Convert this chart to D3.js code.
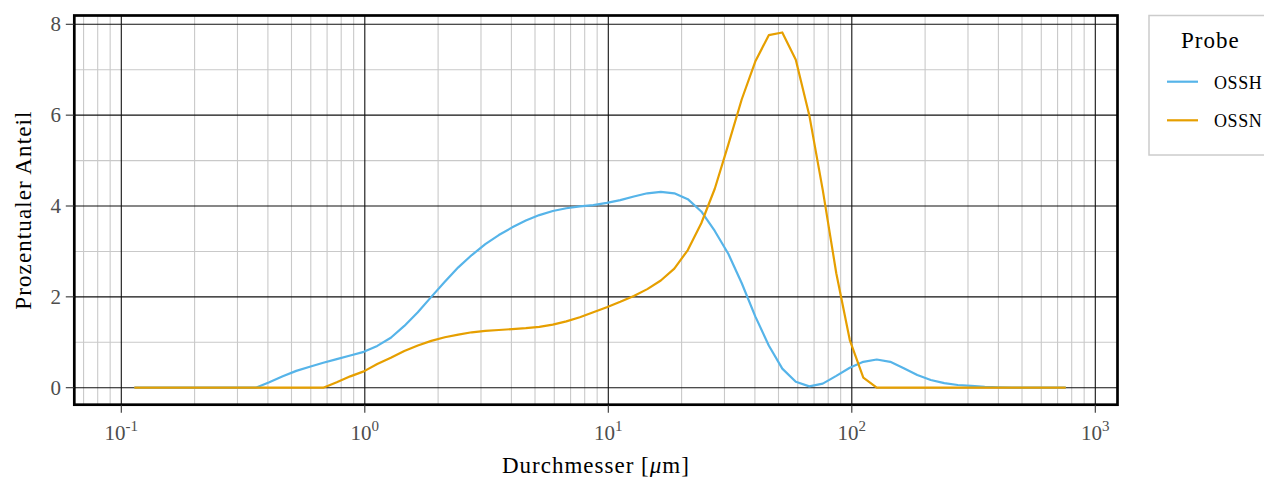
<!DOCTYPE html>
<html>
<head>
<meta charset="utf-8">
<script src="https://cdn.jsdelivr.net/npm/d3@7/dist/d3.min.js"></script>
<style>
  html, body { margin: 0; padding: 0; background: #fff; }
  svg { display: block; }
  text { font-family: "Liberation Serif", "Times New Roman", serif; }
</style>
</head>
<body>
<svg id="chart" width="1264" height="477"></svg>
<script>
// Particle size classes (µm)
const diameters = [
  0.1131, 0.1285, 0.1460, 0.1658, 0.1884, 0.2141, 0.2432, 0.2763, 0.3139, 0.3567,
  0.4052, 0.4604, 0.5231, 0.5943, 0.6752, 0.7671, 0.8717, 0.9905, 1.125, 1.279,
  1.453, 1.651, 1.875, 2.131, 2.421, 2.750, 3.125, 3.551, 4.034, 4.584,
  5.208, 5.917, 6.723, 7.638, 8.678, 9.859, 11.20, 12.73, 14.46, 16.43,
  18.67, 21.21, 24.09, 27.37, 31.10, 35.33, 40.14, 45.61, 51.82, 58.88,
  66.89, 76.00, 86.35, 98.12, 111.5, 126.6, 143.9, 163.5, 185.8, 211.0,
  239.8, 272.4, 309.5, 351.7, 399.6, 454.0, 515.8, 586.0, 665.8, 756.5
];

// Percentage share per class, sample OSSH
const ossh = [
  0, 0, 0, 0, 0, 0, 0, 0, 0, 0,
  0.12, 0.25, 0.37, 0.46, 0.55, 0.63, 0.71, 0.79, 0.92, 1.10,
  1.36, 1.66, 2.00, 2.33, 2.65, 2.92, 3.16, 3.36, 3.53, 3.68,
  3.80, 3.89, 3.95, 3.99, 4.02, 4.07, 4.13, 4.21, 4.28, 4.31,
  4.28, 4.15, 3.88, 3.45, 2.95, 2.30, 1.57, 0.93, 0.42, 0.13,
  0.03, 0.09, 0.26, 0.44, 0.57, 0.62, 0.57, 0.43, 0.28, 0.17,
  0.10, 0.06, 0.04, 0.02, 0.01, 0, 0, 0, 0, 0
];

// Percentage share per class, sample OSSN
const ossn = [
  0, 0, 0, 0, 0, 0, 0, 0, 0, 0,
  0, 0, 0, 0, 0, 0.12, 0.25, 0.36, 0.52, 0.66,
  0.81, 0.93, 1.03, 1.11, 1.17, 1.22, 1.25, 1.27, 1.29, 1.31,
  1.34, 1.39, 1.46, 1.55, 1.66, 1.77, 1.89, 2.02, 2.17, 2.36,
  2.62, 3.03, 3.62, 4.38, 5.35, 6.35, 7.18, 7.76, 7.82, 7.22,
  6.00, 4.35, 2.52, 1.05, 0.22, 0, 0, 0, 0, 0,
  0, 0, 0, 0, 0, 0, 0, 0, 0, 0
];

const seriesNames = ["OSSH", "OSSN"];
const seriesColors = ["#56B4E9", "#E69F00"];
const xMajorTicks = [0.1, 1, 10, 100, 1000];
const xTickExponents = ["-1", "0", "1", "2", "3"];
const yMajorTicks = [0, 2, 4, 6, 8];
const yMinorTicks = [1, 3, 5, 7];

const svg = d3.select("#chart");

// panel geometry
const panel = { left: 74.3, right: 1117.5, top: 15.5, bottom: 404.7 };

const x = d3.scaleLog().domain([0.1, 1000]).range([121.3, 1095.3]);
const y = d3.scaleLinear().domain([0, 8]).range([387.7, 24.3]);

// minor x positions: 2..9 × each decade inside the panel
const xLo = x.invert(panel.left), xHi = x.invert(panel.right);
const xMinorTicks = [];
for (let e = -2; e <= 3; e++) {
  for (let m = 2; m <= 9; m++) {
    const v = m * Math.pow(10, e);
    if (v > xLo && v < xHi) xMinorTicks.push(v);
  }
}

svg.append("defs").append("clipPath").attr("id", "panel-clip")
  .append("rect")
  .attr("x", panel.left).attr("y", panel.top)
  .attr("width", panel.right - panel.left)
  .attr("height", panel.bottom - panel.top);

const grid = svg.append("g").attr("clip-path", "url(#panel-clip)");

// minor grid
grid.selectAll("line.xminor").data(xMinorTicks).join("line")
  .attr("x1", d => x(d)).attr("x2", d => x(d))
  .attr("y1", panel.top).attr("y2", panel.bottom)
  .attr("stroke", "#c9c9c9").attr("stroke-width", 1.1);
grid.selectAll("line.yminor").data(yMinorTicks).join("line")
  .attr("x1", panel.left).attr("x2", panel.right)
  .attr("y1", d => y(d)).attr("y2", d => y(d))
  .attr("stroke", "#c9c9c9").attr("stroke-width", 1.1);

// major grid
grid.selectAll("line.xmajor").data(xMajorTicks).join("line")
  .attr("x1", d => x(d)).attr("x2", d => x(d))
  .attr("y1", panel.top).attr("y2", panel.bottom)
  .attr("stroke", "#111").attr("stroke-width", 1.1);
grid.selectAll("line.ymajor").data(yMajorTicks).join("line")
  .attr("x1", panel.left).attr("x2", panel.right)
  .attr("y1", d => y(d)).attr("y2", d => y(d))
  .attr("stroke", "#111").attr("stroke-width", 1.1);

// data lines
const series = [ossh, ossn];
const line = d3.line()
  .x(d => x(d[0]))
  .y(d => y(d[1]));

series.forEach((vals, i) => {
  grid.append("path")
    .datum(diameters.map((dm, j) => [dm, vals[j]]))
    .attr("d", line)
    .attr("fill", "none")
    .attr("stroke", seriesColors[i])
    .attr("stroke-width", 2.2)
    .attr("stroke-linejoin", "round");
});

// panel border
svg.append("rect")
  .attr("x", panel.left).attr("y", panel.top)
  .attr("width", panel.right - panel.left)
  .attr("height", panel.bottom - panel.top)
  .attr("fill", "none").attr("stroke", "#000").attr("stroke-width", 2.7);

// y axis
const yAxis = svg.append("g");
yAxis.selectAll("line").data(yMajorTicks).join("line")
  .attr("x1", panel.left - 8.5).attr("x2", panel.left)
  .attr("y1", d => y(d)).attr("y2", d => y(d))
  .attr("stroke", "#333").attr("stroke-width", 1.1);
yAxis.selectAll("text").data(yMajorTicks).join("text")
  .attr("x", 61).attr("y", d => y(d))
  .attr("dy", "0.34em")
  .attr("text-anchor", "end")
  .attr("fill", "#4d4d4d")
  .attr("font-size", 21)
  .text(d => d);

// x axis
const xAxis = svg.append("g");
xAxis.selectAll("line").data(xMajorTicks).join("line")
  .attr("x1", d => x(d)).attr("x2", d => x(d))
  .attr("y1", panel.bottom).attr("y2", panel.bottom + 8)
  .attr("stroke", "#333").attr("stroke-width", 1.1);
const xl = xAxis.selectAll("text").data(xMajorTicks).join("text")
  .attr("x", d => x(d)).attr("y", 439.5)
  .attr("text-anchor", "middle")
  .attr("fill", "#4d4d4d")
  .attr("font-size", 21);
xl.append("tspan").text("10");
xl.append("tspan")
  .attr("dy", -9)
  .attr("font-size", 15)
  .text((d, i) => xTickExponents[i]);

// axis titles
svg.append("text")
  .attr("x", (panel.left + panel.right) / 2).attr("y", 473)
  .attr("text-anchor", "middle")
  .attr("font-size", 23)
  .attr("letter-spacing", 1)
  .attr("fill", "#000")
  .html("Durchmesser [<tspan font-style=\"italic\">μ</tspan>m]");

svg.append("text")
  .attr("transform", `translate(30.5, ${(panel.top + panel.bottom) / 2}) rotate(-90)`)
  .attr("text-anchor", "middle")
  .attr("font-size", 23)
  .attr("letter-spacing", 1.1)
  .attr("fill", "#000")
  .text("Prozentualer Anteil");

// legend
const legend = svg.append("g");
legend.append("rect")
  .attr("x", 1149).attr("y", 15.5)
  .attr("width", 140).attr("height", 139.5)
  .attr("fill", "#fff").attr("stroke", "#cccccc").attr("stroke-width", 1.5);
legend.append("text")
  .attr("x", 1181).attr("y", 48)
  .attr("font-size", 23).attr("letter-spacing", 1)
  .attr("fill", "#000")
  .text("Probe");
const keyY = [81.7, 120.3];
seriesNames.forEach((name, i) => {
  legend.append("line")
    .attr("x1", 1167).attr("x2", 1198)
    .attr("y1", keyY[i]).attr("y2", keyY[i])
    .attr("stroke", seriesColors[i]).attr("stroke-width", 2.2);
  legend.append("text")
    .attr("x", 1214).attr("y", keyY[i] + 6.8)
    .attr("font-size", 18).attr("letter-spacing", 0.6)
    .attr("fill", "#000")
    .text(name);
});
</script>
</body>
</html>
